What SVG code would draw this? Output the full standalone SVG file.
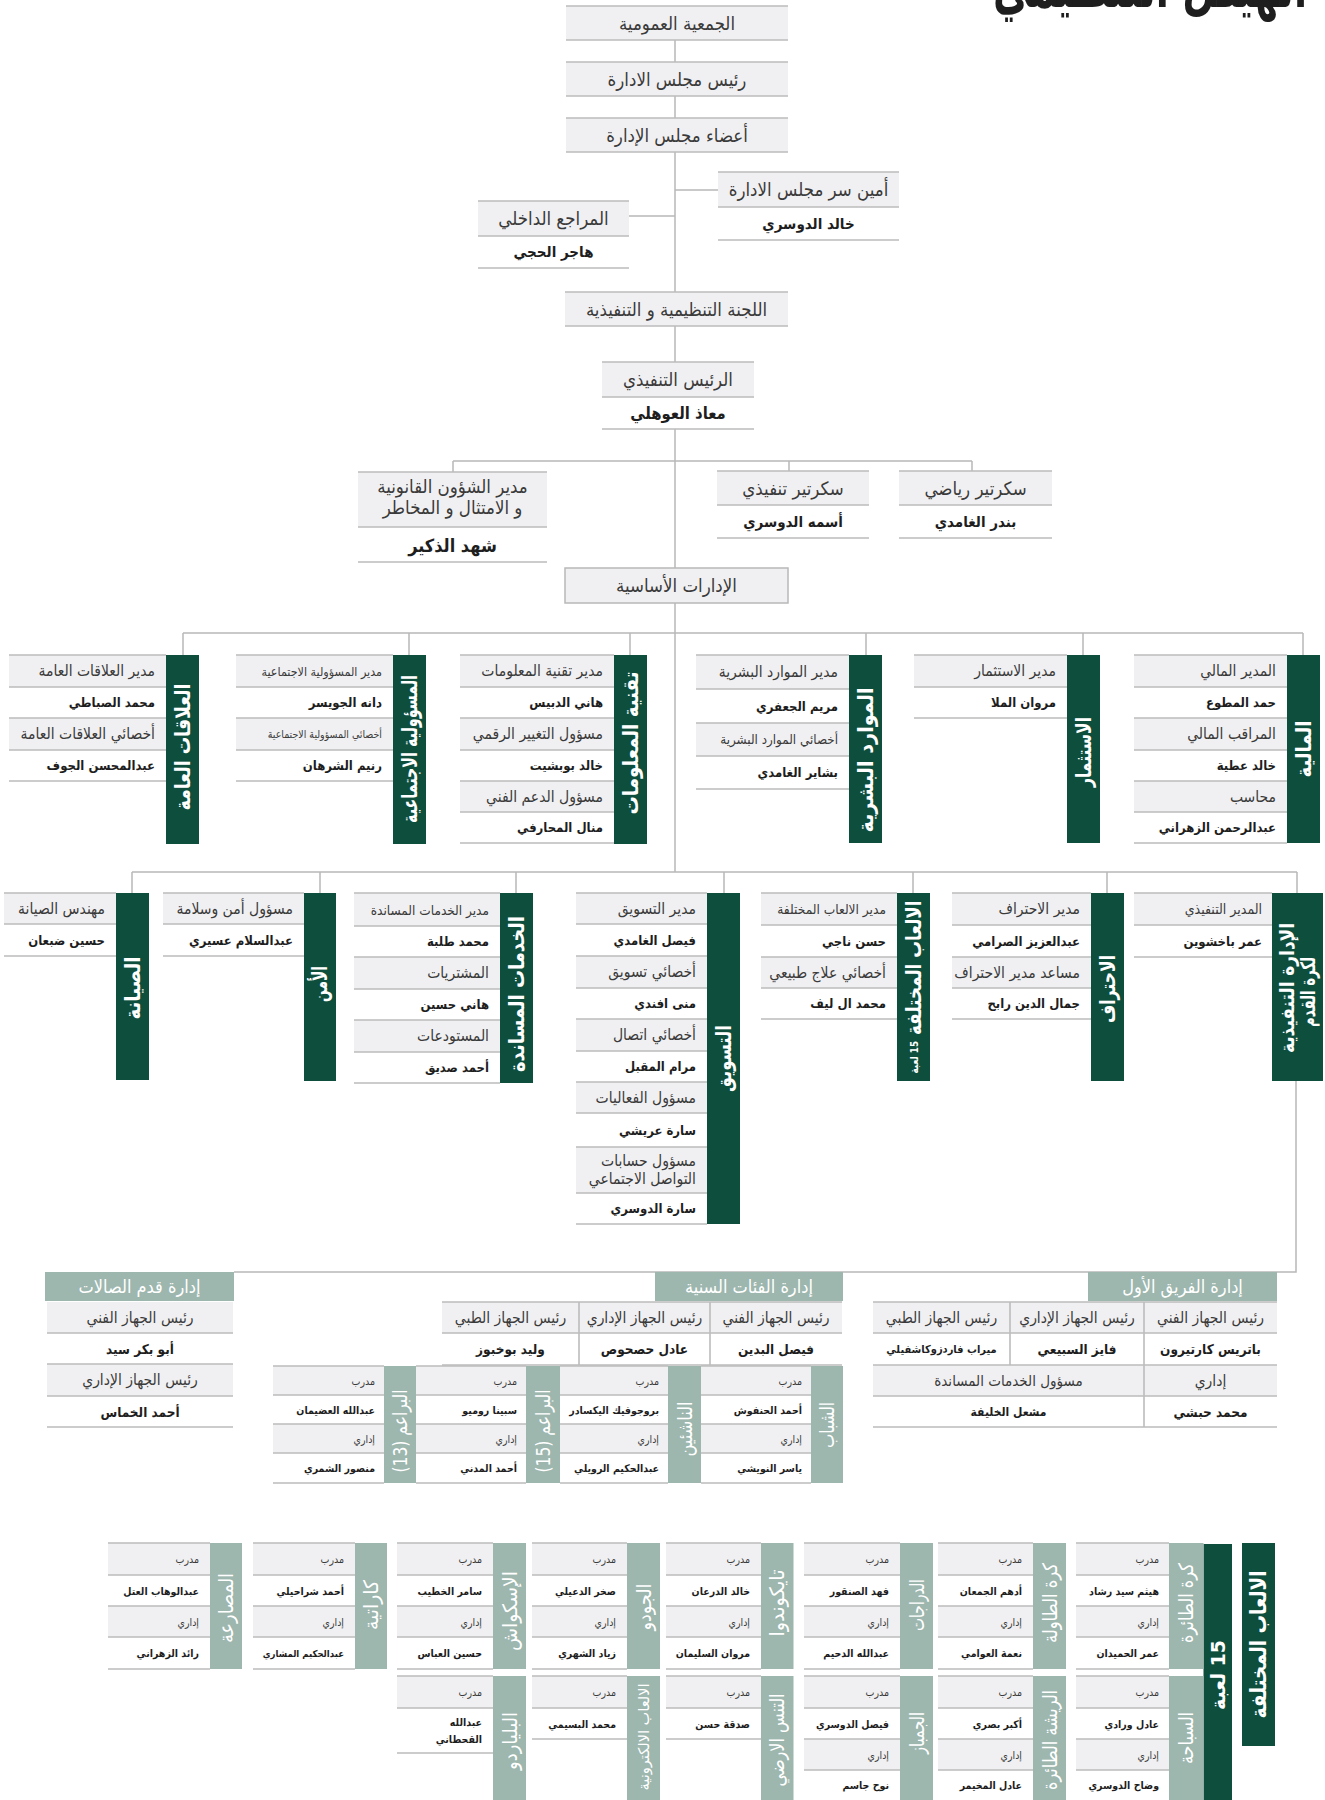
<svg xmlns="http://www.w3.org/2000/svg" width="1325" height="1800" viewBox="0 0 1325 1800">
<style>
text{font-family:"DejaVu Sans Condensed","DejaVu Sans",sans-serif;direction:rtl;dominant-baseline:central}
.c{stroke:#b8b8b8;stroke-width:1.5;fill:none}
.ln{stroke:#bcbcbc;stroke-width:1.6;fill:none}
.g{fill:#f0f0f2}
.bar{fill:#0e4e3c}
.sg{fill:#9db6ae}
.t{font-size:15.5px;fill:#3a3a3a;text-anchor:start}
.n{font-size:13px;font-weight:bold;fill:#1e1e1e;text-anchor:start}
.ts{font-size:10.5px;fill:#3a3a3a;text-anchor:start}
.tc{font-size:18.5px;fill:#3a3a3a;text-anchor:middle}
.nc{font-size:15px;font-weight:bold;fill:#1e1e1e;text-anchor:middle}
.bt{font-size:21px;font-weight:bold;fill:#fff;text-anchor:middle}
.hd{font-size:18px;fill:#fff;text-anchor:middle}
.st{font-size:10.5px;fill:#3a3a3a;text-anchor:start}
.sn{font-size:10.5px;font-weight:bold;fill:#1e1e1e;text-anchor:start}
.sb{font-size:20px;fill:#fff;text-anchor:middle}
.cc{font-size:15.5px;fill:#3a3a3a;text-anchor:middle}
.cn{font-size:13.5px;font-weight:bold;fill:#1e1e1e;text-anchor:middle}
</style>
<rect width="1325" height="1800" fill="#fff"/>
<text x="1307" y="7" textLength="314" lengthAdjust="spacingAndGlyphs" style="font-size:62px;font-weight:bold;fill:#1e1e1e;text-anchor:start;dominant-baseline:alphabetic">الهيكل التنظيمي</text>

<g id="connectors">
<path class="c" d="M675 40V62M675 96V118M675 152V292M675 190H718M629 216H675M675 326V362M675 429V568M675 603V872"/>
<path class="c" d="M453 461H972M453 461V472M789 461V471M972 461V471"/>
<path class="c" d="M183 633H1303M183 633V655M409 633V655M630 633V655M866 633V655M1083 633V655M1303 633V655"/>
<path class="c" d="M132 872H1297M132 872V893M320 872V893M516 872V893M724 872V893M913 872V893M1107 872V893M1297 872V893"/>
<path class="c" d="M1296 1081V1272H234"/>
</g>

<g id="general-assembly"><rect class="g" x="566" y="6" width="222" height="34"/><path class="ln" d="M566 6H788M566 40H788"/><text class="tc" x="677" y="23">الجمعية العمومية</text></g>
<g id="board-chair"><rect class="g" x="566" y="62" width="222" height="34"/><path class="ln" d="M566 62H788M566 96H788"/><text class="tc" x="677" y="79">رئيس مجلس الادارة</text></g>
<g id="board-members"><rect class="g" x="566" y="118" width="222" height="34"/><path class="ln" d="M566 118H788M566 152H788"/><text class="tc" x="677" y="135">أعضاء مجلس الإدارة</text></g>
<g id="board-secretary"><rect class="g" x="718" y="172" width="181" height="35"/><path class="ln" d="M718 172H899M718 207H899M718 240H899"/><text class="tc" x="808.5" y="189.5">أمين سر مجلس الادارة</text><text class="nc" x="808.5" y="223.5">خالد الدوسري</text></g>
<g id="internal-auditor"><rect class="g" x="478" y="201" width="151" height="35"/><path class="ln" d="M478 201H629M478 236H629M478 268H629"/><text class="tc" x="553.5" y="218.5">المراجع الداخلي</text><text class="nc" x="553.5" y="252">هاجر الحجي</text></g>
<g id="exec-committee"><rect class="g" x="565" y="292" width="223" height="34"/><path class="ln" d="M565 292H788M565 326H788"/><text class="tc" x="676.5" y="309">اللجنة التنظيمية و التنفيذية</text></g>
<g id="ceo"><rect class="g" x="602" y="362" width="152" height="35"/><path class="ln" d="M602 362H754M602 397H754M602 429H754"/><text class="tc" x="678" y="379.5">الرئيس التنفيذي</text><text class="nc" x="678" y="413" style="font-size:16.5px">معاذ العوهلي</text></g>
<g id="legal"><rect class="g" x="358" y="472" width="189" height="55"/><path class="ln" d="M358 472H547M358 527H547M358 562H547"/><text class="tc" x="452.5" y="486">مدير الشؤون القانونية</text><text class="tc" x="452.5" y="507">و الامتثال و المخاطر</text><text class="nc" x="452.5" y="545" style="font-size:18px">شهد الذكير</text></g>
<g id="exec-secretary"><rect class="g" x="717" y="471" width="152" height="34"/><path class="ln" d="M717 471H869M717 505H869M717 538H869"/><text class="tc" x="793" y="488">سكرتير تنفيذي</text><text class="nc" x="793" y="521.5">أسمه الدوسري</text></g>
<g id="sports-secretary"><rect class="g" x="899" y="471" width="153" height="34"/><path class="ln" d="M899 471H1052M899 505H1052M899 538H1052"/><text class="tc" x="975.5" y="488">سكرتير رياضي</text><text class="nc" x="975.5" y="521.5">بندر الغامدي</text></g>
<g id="main-departments"><rect x="565" y="568" width="223" height="35" fill="#f0f0f2" stroke="#b8b8b8" stroke-width="1.5"/><text class="tc" x="676.5" y="585.5">الإدارات الأساسية</text></g>

<g id="dept-finance">
<rect class="g" x="1134" y="655" width="153" height="32"/><rect class="g" x="1134" y="718" width="153" height="32"/><rect class="g" x="1134" y="781" width="153" height="31"/>
<path class="ln" d="M1134 655H1287M1134 687H1287M1134 718H1287M1134 750H1287M1134 781H1287M1134 812H1287M1134 843H1287"/>
<rect class="bar" x="1287" y="655" width="33" height="188"/>
<text class="t" x="1276" y="671">المدير المالي</text><text class="n" x="1276" y="702.5">حمد المطوع</text><text class="t" x="1276" y="734">المراقب المالي</text><text class="n" x="1276" y="765.5">خالد عطية</text><text class="t" x="1276" y="796.5">محاسب</text><text class="n" x="1276" y="827.5">عبدالرحمن الزهراني</text>
<text class="bt" transform="translate(1303.5 749) rotate(-90)" textLength="57" lengthAdjust="spacingAndGlyphs">المالية</text>
</g>
<g id="dept-investment">
<rect class="g" x="914" y="655" width="153" height="32"/>
<path class="ln" d="M914 655H1067M914 687H1067M914 718H1067"/>
<rect class="bar" x="1067" y="655" width="33" height="188"/>
<text class="t" x="1056" y="671">مدير الاستثمار</text><text class="n" x="1056" y="702.5">مروان الملا</text>
<text class="bt" transform="translate(1083.5 752) rotate(-90)" textLength="70" lengthAdjust="spacingAndGlyphs">الاستثمار</text>
</g>
<g id="dept-hr">
<rect class="g" x="696" y="655" width="153" height="34"/><rect class="g" x="696" y="723" width="153" height="33"/>
<path class="ln" d="M696 655H849M696 689H849M696 723H849M696 756H849M696 789H849"/>
<rect class="bar" x="849" y="655" width="33" height="188"/>
<text class="t" x="838" y="672">مدير الموارد البشرية</text><text class="n" x="838" y="706">مريم الجعفري</text><text class="ts" x="838" y="739.5" style="font-size:13.3px">أخصائي الموارد البشرية</text><text class="n" x="838" y="772.5">بشاير الغامدي</text>
<text class="bt" transform="translate(865.5 760) rotate(-90)" textLength="145" lengthAdjust="spacingAndGlyphs">الموارد البشرية</text>
</g>
<g id="dept-it">
<rect class="g" x="460" y="655" width="154" height="32"/><rect class="g" x="460" y="718" width="154" height="32"/><rect class="g" x="460" y="781" width="154" height="31"/>
<path class="ln" d="M460 655H614M460 687H614M460 718H614M460 750H614M460 781H614M460 812H614M460 843H614"/>
<rect class="bar" x="614" y="655" width="33" height="189"/>
<text class="t" x="603" y="671">مدير تقنية المعلومات</text><text class="n" x="603" y="702.5">هاني الدبيس</text><text class="t" x="603" y="734">مسؤول التغيير الرقمي</text><text class="n" x="603" y="765.5">خالد بوبشيت</text><text class="t" x="603" y="796.5">مسؤول الدعم الفني</text><text class="n" x="603" y="827.5">منال المحارفي</text>
<text class="bt" transform="translate(630.5 743) rotate(-90)" textLength="143" lengthAdjust="spacingAndGlyphs">تقنية المعلومات</text>
</g>
<g id="dept-csr">
<rect class="g" x="236" y="655" width="157" height="32"/><rect class="g" x="236" y="718" width="157" height="32"/>
<path class="ln" d="M236 655H393M236 687H393M236 718H393M236 750H393M236 781H393"/>
<rect class="bar" x="393" y="655" width="33" height="189"/>
<text class="ts" x="382" y="671" style="font-size:12.4px">مدير المسؤولية الاجتماعية</text><text class="n" x="382" y="702.5">دانه الجويسر</text><text class="ts" x="382" y="734">أخصائي المسؤولية الاجتماعية</text><text class="n" x="382" y="765.5">رنيم الشرهان</text>
<text class="bt" transform="translate(409.5 749) rotate(-90)" textLength="148" lengthAdjust="spacingAndGlyphs">المسؤولية الاجتماعية</text>
</g>
<g id="dept-pr">
<rect class="g" x="9" y="655" width="157" height="32"/><rect class="g" x="9" y="718" width="157" height="32"/>
<path class="ln" d="M9 655H166M9 687H166M9 718H166M9 750H166M9 781H166"/>
<rect class="bar" x="166" y="655" width="33" height="189"/>
<text class="t" x="155" y="671">مدير العلاقات العامة</text><text class="n" x="155" y="702.5">محمد الصباطي</text><text class="t" x="155" y="734">أخصائي العلاقات العامة</text><text class="n" x="155" y="765.5">عبدالمحسن الجوف</text>
<text class="bt" transform="translate(182.5 747) rotate(-90)" textLength="127" lengthAdjust="spacingAndGlyphs">العلاقات العامة</text>
</g>

<g id="dept-football-exec">
<rect class="g" x="1134" y="893" width="138" height="32"/>
<path class="ln" d="M1134 893H1272M1134 925H1272M1134 957H1272"/>
<rect class="bar" x="1272" y="893" width="51" height="188"/>
<text class="ts" x="1262" y="909" style="font-size:14px">المدير التنفيذي</text><text class="n" x="1262" y="941">عمر باخشوين</text>
<text class="bt" transform="translate(1287 988) rotate(-90)" style="font-size:20px" textLength="130" lengthAdjust="spacingAndGlyphs">الإدارة التنفيذية</text>
<text class="bt" transform="translate(1308 992) rotate(-90)" style="font-size:20px" textLength="70" lengthAdjust="spacingAndGlyphs">لكرة القدم</text>
</g>
<g id="dept-professional">
<rect class="g" x="952" y="893" width="139" height="32"/><rect class="g" x="952" y="957" width="139" height="31"/>
<path class="ln" d="M952 893H1091M952 925H1091M952 957H1091M952 988H1091M952 1019H1091"/>
<rect class="bar" x="1091" y="893" width="33" height="188"/>
<text class="t" x="1080" y="909">مدير الاحتراف</text><text class="n" x="1080" y="941">عبدالعزيز الصرامي</text><text class="t" x="1080" y="972.5">مساعد مدير الاحتراف</text><text class="n" x="1080" y="1003.5">جمال الدين رابح</text>
<text class="bt" transform="translate(1107.5 989) rotate(-90)" textLength="68" lengthAdjust="spacingAndGlyphs">الاحتراف</text>
</g>
<g id="dept-various-games">
<rect class="g" x="761" y="893" width="136" height="32"/><rect class="g" x="761" y="957" width="136" height="31"/>
<path class="ln" d="M761 893H897M761 925H897M761 957H897M761 988H897M761 1019H897"/>
<rect class="bar" x="897" y="893" width="33" height="188"/>
<text class="ts" x="886" y="909" style="font-size:13.6px">مدير الالعاب المختلفة</text><text class="n" x="886" y="941">حسن ناجي</text><text class="t" x="886" y="972.5">أخصائي علاج طبيعي</text><text class="n" x="886" y="1003.5">محمد ال ليف</text>
<text class="bt" transform="translate(913.5 987) rotate(-90)" textLength="173" lengthAdjust="spacingAndGlyphs">الالعاب المختلفة <tspan style="font-size:11px">15 لعبة</tspan></text>
</g>
<g id="dept-marketing">
<rect class="g" x="576" y="893" width="131" height="31"/><rect class="g" x="576" y="956" width="131" height="32"/><rect class="g" x="576" y="1019" width="131" height="32"/><rect class="g" x="576" y="1082" width="131" height="31"/><rect class="g" x="576" y="1147" width="131" height="46"/>
<path class="ln" d="M576 893H707M576 924H707M576 956H707M576 988H707M576 1019H707M576 1051H707M576 1082H707M576 1113H707M576 1147H707M576 1193H707M576 1224H707"/>
<rect class="bar" x="707" y="893" width="33" height="331"/>
<text class="t" x="696" y="908.5">مدير التسويق</text><text class="n" x="696" y="940">فيصل الغامدي</text><text class="t" x="696" y="972">أخصائي تسويق</text><text class="n" x="696" y="1003.5">منى افندي</text><text class="t" x="696" y="1035">أخصائي اتصال</text><text class="n" x="696" y="1066.5">مرام المقبل</text><text class="t" x="696" y="1097.5">مسؤول الفعاليات</text><text class="n" x="696" y="1130">سارة عريشي</text><text class="t" x="696" y="1161">مسؤول حسابات</text><text class="t" x="696" y="1179">التواصل الاجتماعي</text><text class="n" x="696" y="1208.5">سارة الدوسري</text>
<text class="bt" transform="translate(723.5 1058.5) rotate(-90)" textLength="67" lengthAdjust="spacingAndGlyphs">التسويق</text>
</g>
<g id="dept-support">
<rect class="g" x="354" y="893" width="146" height="33"/><rect class="g" x="354" y="957" width="146" height="32"/><rect class="g" x="354" y="1020" width="146" height="32"/>
<path class="ln" d="M354 893H500M354 926H500M354 957H500M354 989H500M354 1020H500M354 1052H500M354 1083H500"/>
<rect class="bar" x="500" y="893" width="33" height="190"/>
<text class="ts" x="489" y="909.5" style="font-size:13.5px">مدير الخدمات المساندة</text><text class="n" x="489" y="941.5">محمد طلبة</text><text class="t" x="489" y="973">المشتريات</text><text class="n" x="489" y="1004.5">هاني حسين</text><text class="t" x="489" y="1036">المستودعات</text><text class="n" x="489" y="1067.5">أحمد صديق</text>
<text class="bt" transform="translate(516.5 994) rotate(-90)" textLength="156" lengthAdjust="spacingAndGlyphs">الخدمات المساندة</text>
</g>
<g id="dept-security">
<rect class="g" x="163" y="893" width="141" height="31"/>
<path class="ln" d="M163 893H304M163 924H304M163 956H304"/>
<rect class="bar" x="304" y="893" width="32" height="188"/>
<text class="t" x="293" y="908.5">مسؤول أمن وسلامة</text><text class="n" x="293" y="940">عبدالسلام عسيري</text>
<text class="bt" transform="translate(320 984) rotate(-90)" textLength="36" lengthAdjust="spacingAndGlyphs">الأمن</text>
</g>
<g id="dept-maintenance">
<rect class="g" x="4" y="893" width="112" height="31"/>
<path class="ln" d="M4 893H116M4 924H116M4 956H116"/>
<rect class="bar" x="116" y="893" width="33" height="187"/>
<text class="t" x="105" y="908.5">مهندس الصيانة</text><text class="n" x="105" y="940">حسين ضبعان</text>
<text class="bt" transform="translate(132.5 988) rotate(-90)" textLength="63" lengthAdjust="spacingAndGlyphs">الصيانة</text>
</g>

<g id="futsal">
<rect class="sg" x="45" y="1272" width="189" height="29"/>
<text class="hd" x="139.5" y="1286.5">إدارة قدم الصالات</text>
<rect class="g" x="47" y="1302" width="186" height="31"/><rect class="g" x="47" y="1364" width="186" height="32"/>
<path class="ln" d="M47 1333H233M47 1364H233M47 1396H233M47 1427H233"/>
<text class="cc" x="140" y="1317.5">رئيس الجهاز الفني</text><text class="cn" x="140" y="1348.5">أبو بكر سيد</text><text class="cc" x="140" y="1380">رئيس الجهاز الإداري</text><text class="cn" x="140" y="1411.5">أحمد الخماس</text>
</g>

<g id="youth">
<rect class="sg" x="655" y="1272" width="188" height="29"/>
<text class="hd" x="749" y="1286.5">إدارة الفئات السنية</text>
<rect class="g" x="442" y="1302" width="400" height="31"/>
<path class="ln" d="M442 1302H842M442 1333H842M442 1365H842M579 1302V1365M710 1302V1365"/>
<text class="cc" x="776" y="1317.5">رئيس الجهاز الفني</text><text class="cc" x="644.5" y="1317.5">رئيس الجهاز الإداري</text><text class="cc" x="510.5" y="1317.5">رئيس الجهاز الطبي</text>
<text class="cn" x="776" y="1349">فيصل البدين</text><text class="cn" x="644.5" y="1349">عادل حصحوص</text><text class="cn" x="510.5" y="1349">وليد بوخبوز</text>
</g>
<g id="youth-u13">
<rect class="g" x="273" y="1366" width="111" height="29"/><rect class="g" x="273" y="1424" width="111" height="29"/>
<path class="ln" d="M273 1366H384M273 1395H384M273 1424H384M273 1453H384M273 1483H384"/>
<rect class="sg" x="384" y="1366" width="32" height="117"/>
<text class="st" x="375" y="1380.5">مدرب</text><text class="sn" x="375" y="1409.5">عبدالله العضيمان</text><text class="st" x="375" y="1438.5">إداري</text><text class="sn" x="375" y="1468">منصور الشمري</text>
<text class="sb" transform="translate(400 1431) rotate(-90)" textLength="83" lengthAdjust="spacingAndGlyphs">البراعم (13)</text>
</g>
<g id="youth-u15">
<rect class="g" x="416" y="1366" width="110" height="29"/><rect class="g" x="416" y="1424" width="110" height="29"/>
<path class="ln" d="M416 1366H526M416 1395H526M416 1424H526M416 1453H526M416 1483H526"/>
<rect class="sg" x="526" y="1366" width="34" height="117"/>
<text class="st" x="517" y="1380.5">مدرب</text><text class="sn" x="517" y="1409.5">سبينا روميو</text><text class="st" x="517" y="1438.5">إداري</text><text class="sn" x="517" y="1468">أحمد المدني</text>
<text class="sb" transform="translate(543 1431) rotate(-90)" textLength="83" lengthAdjust="spacingAndGlyphs">البراعم (15)</text>
</g>
<g id="youth-juniors">
<rect class="g" x="560" y="1366" width="108" height="29"/><rect class="g" x="560" y="1424" width="108" height="29"/>
<path class="ln" d="M560 1366H668M560 1395H668M560 1424H668M560 1453H668M560 1483H668"/>
<rect class="sg" x="668" y="1366" width="33" height="117"/>
<text class="st" x="659" y="1380.5">مدرب</text><text class="sn" x="659" y="1409.5">بروجوفيك اليكسادر</text><text class="st" x="659" y="1438.5">إداري</text><text class="sn" x="659" y="1468">عبدالحكيم الرويلي</text>
<text class="sb" transform="translate(684.5 1429) rotate(-90)" textLength="55" lengthAdjust="spacingAndGlyphs">الناشئين</text>
</g>
<g id="youth-youth">
<rect class="g" x="701" y="1366" width="110" height="29"/><rect class="g" x="701" y="1424" width="110" height="29"/>
<path class="ln" d="M701 1366H811M701 1395H811M701 1424H811M701 1453H811M701 1483H811"/>
<rect class="sg" x="811" y="1366" width="32" height="117"/>
<text class="st" x="802" y="1380.5">مدرب</text><text class="sn" x="802" y="1409.5">أحمد الحنفوش</text><text class="st" x="802" y="1438.5">إداري</text><text class="sn" x="802" y="1468">ياسر النويشي</text>
<text class="sb" transform="translate(827 1425) rotate(-90)" textLength="46" lengthAdjust="spacingAndGlyphs">الشباب</text>
</g>

<g id="first-team">
<rect class="sg" x="1088" y="1272" width="189" height="29"/>
<text class="hd" x="1182.5" y="1286.5">إدارة الفريق الأول</text>
<rect class="g" x="873" y="1302" width="404" height="31"/><rect class="g" x="873" y="1365" width="404" height="31"/>
<path class="ln" d="M873 1302H1277M873 1333H1277M873 1365H1277M873 1396H1277M873 1427H1277M1010 1302V1365M1144 1302V1427"/>
<text class="cc" x="1210.5" y="1317.5">رئيس الجهاز الفني</text><text class="cc" x="1077" y="1317.5">رئيس الجهاز الإداري</text><text class="cc" x="941.5" y="1317.5">رئيس الجهاز الطبي</text>
<text class="cn" x="1210.5" y="1349">باتريس كارتيرون</text><text class="cn" x="1077" y="1349">فايز السبيعي</text><text class="cn" x="941.5" y="1349" style="font-size:11px">ميراب فاردزوكاشفيلي</text>
<text class="cc" x="1210.5" y="1380.5">إداري</text><text class="cc" x="1008.5" y="1380.5" style="font-size:15px">مسؤول الخدمات المساندة</text>
<text class="cn" x="1210.5" y="1411.5">محمد حبشي</text><text class="cn" x="1008.5" y="1411.5" style="font-size:12px">مشعل الخليفة</text>
</g>

<g id="games-title">
<rect class="bar" x="1242" y="1543" width="33" height="203"/>
<text class="bt" transform="translate(1258.5 1644.5) rotate(-90)" style="font-size:22px" textLength="148" lengthAdjust="spacingAndGlyphs">الالعاب المختلفة</text>
<rect class="bar" x="1203.5" y="1544" width="28.5" height="256"/>
<text class="bt" transform="translate(1218 1675) rotate(-90)" style="font-size:20px" textLength="70" lengthAdjust="spacingAndGlyphs">15 لعبة</text>
</g>

<g id="sport-volleyball">
<rect class="g" x="1076" y="1543" width="93" height="32"/><rect class="g" x="1076" y="1606" width="93" height="31"/>
<path class="ln" d="M1076 1543H1169M1076 1575H1169M1076 1606H1169M1076 1637H1169M1076 1669H1169"/>
<rect class="sg" x="1169" y="1543" width="34.5" height="126"/>
<text class="st" x="1159" y="1559">مدرب</text><text class="sn" x="1159" y="1590.5">هيثم سيد رشاد</text><text class="st" x="1159" y="1621.5">إداري</text><text class="sn" x="1159" y="1653">عمر الحميدان</text>
<text class="sb" transform="translate(1186 1603) rotate(-90)" textLength="80" lengthAdjust="spacingAndGlyphs">كرة الطائرة</text>
</g>
<g id="sport-swimming">
<rect class="g" x="1076" y="1676" width="93" height="32"/><rect class="g" x="1076" y="1739" width="93" height="31"/>
<path class="ln" d="M1076 1676H1169M1076 1708H1169M1076 1739H1169M1076 1770H1169"/>
<rect class="sg" x="1169" y="1676" width="34.5" height="124"/>
<text class="st" x="1159" y="1692">مدرب</text><text class="sn" x="1159" y="1723.5">عادل ورادي</text><text class="st" x="1159" y="1754.5">إداري</text><text class="sn" x="1159" y="1785">وضاح الدوسري</text>
<text class="sb" transform="translate(1186 1738) rotate(-90)" textLength="52" lengthAdjust="spacingAndGlyphs">السباحة</text>
</g>
<g id="sport-tabletennis">
<rect class="g" x="938" y="1543" width="95" height="32"/><rect class="g" x="938" y="1606" width="95" height="31"/>
<path class="ln" d="M938 1543H1033M938 1575H1033M938 1606H1033M938 1637H1033M938 1669H1033"/>
<rect class="sg" x="1033" y="1543" width="33" height="126"/>
<text class="st" x="1022" y="1559">مدرب</text><text class="sn" x="1022" y="1590.5">أدهم الجمعان</text><text class="st" x="1022" y="1621.5">إداري</text><text class="sn" x="1022" y="1653">نعمة العوامي</text>
<text class="sb" transform="translate(1049.5 1603) rotate(-90)" textLength="80" lengthAdjust="spacingAndGlyphs">كرة الطاولة</text>
</g>
<g id="sport-badminton">
<rect class="g" x="938" y="1676" width="95" height="32"/><rect class="g" x="938" y="1739" width="95" height="31"/>
<path class="ln" d="M938 1676H1033M938 1708H1033M938 1739H1033M938 1770H1033"/>
<rect class="sg" x="1033" y="1676" width="33" height="124"/>
<text class="st" x="1022" y="1692">مدرب</text><text class="sn" x="1022" y="1723.5">أكبر بصري</text><text class="st" x="1022" y="1754.5">إداري</text><text class="sn" x="1022" y="1785">عادل المخيمر</text>
<text class="sb" transform="translate(1049.5 1740) rotate(-90)" textLength="100" lengthAdjust="spacingAndGlyphs">الريشة الطائرة</text>
</g>
<g id="sport-cycling">
<rect class="g" x="804" y="1543" width="96" height="32"/><rect class="g" x="804" y="1606" width="96" height="31"/>
<path class="ln" d="M804 1543H900M804 1575H900M804 1606H900M804 1637H900M804 1669H900"/>
<rect class="sg" x="900" y="1543" width="33" height="126"/>
<text class="st" x="889" y="1559">مدرب</text><text class="sn" x="889" y="1590.5">فهد الصنقور</text><text class="st" x="889" y="1621.5">إداري</text><text class="sn" x="889" y="1653">عبدالله الدحيم</text>
<text class="sb" transform="translate(916.5 1605) rotate(-90)" textLength="52" lengthAdjust="spacingAndGlyphs">الدراجات</text>
</g>
<g id="sport-gymnastics">
<rect class="g" x="804" y="1676" width="96" height="32"/><rect class="g" x="804" y="1739" width="96" height="31"/>
<path class="ln" d="M804 1676H900M804 1708H900M804 1739H900M804 1770H900"/>
<rect class="sg" x="900" y="1676" width="33" height="124"/>
<text class="st" x="889" y="1692">مدرب</text><text class="sn" x="889" y="1723.5">فيصل الدوسري</text><text class="st" x="889" y="1754.5">إداري</text><text class="sn" x="889" y="1785">نوح جاسم</text>
<text class="sb" transform="translate(916.5 1733) rotate(-90)" textLength="42" lengthAdjust="spacingAndGlyphs">الجمباز</text>
</g>
<g id="sport-taekwondo">
<rect class="g" x="666" y="1543" width="95" height="32"/><rect class="g" x="666" y="1606" width="95" height="31"/>
<path class="ln" d="M666 1543H761M666 1575H761M666 1606H761M666 1637H761M666 1669H761"/>
<rect class="sg" x="761" y="1543" width="32.5" height="126"/>
<text class="st" x="750" y="1559">مدرب</text><text class="sn" x="750" y="1590.5">خالد الدرعان</text><text class="st" x="750" y="1621.5">إداري</text><text class="sn" x="750" y="1653">مروان السليمان</text>
<text class="sb" transform="translate(777 1603) rotate(-90)" textLength="67" lengthAdjust="spacingAndGlyphs">تايكوندوا</text>
</g>
<g id="sport-tennis">
<rect class="g" x="666" y="1676" width="95" height="32"/>
<path class="ln" d="M666 1676H761M666 1708H761M666 1739H761"/>
<rect class="sg" x="761" y="1676" width="32.5" height="124"/>
<text class="st" x="750" y="1692">مدرب</text><text class="sn" x="750" y="1723.5">صدقة حسن</text>
<text class="sb" transform="translate(777 1740) rotate(-90)" textLength="93" lengthAdjust="spacingAndGlyphs">التنس الارضي</text>
</g>
<g id="sport-judo">
<rect class="g" x="532" y="1543" width="95" height="32"/><rect class="g" x="532" y="1606" width="95" height="31"/>
<path class="ln" d="M532 1543H627M532 1575H627M532 1606H627M532 1637H627M532 1669H627"/>
<rect class="sg" x="627" y="1543" width="33" height="126"/>
<text class="st" x="616" y="1559">مدرب</text><text class="sn" x="616" y="1590.5">صخر الدعيلي</text><text class="st" x="616" y="1621.5">إداري</text><text class="sn" x="616" y="1653">زياد الشهري</text>
<text class="sb" transform="translate(643.5 1607) rotate(-90)" textLength="47" lengthAdjust="spacingAndGlyphs">الجودو</text>
</g>
<g id="sport-esports">
<rect class="g" x="532" y="1676" width="95" height="32"/>
<path class="ln" d="M532 1676H627M532 1708H627M532 1739H627"/>
<rect class="sg" x="627" y="1676" width="33" height="124"/>
<text class="st" x="616" y="1692">مدرب</text><text class="sn" x="616" y="1723.5">محمد البسيمي</text>
<text class="sb" transform="translate(643.5 1737) rotate(-90)" style="font-size:15px" textLength="107" lengthAdjust="spacingAndGlyphs">الالعاب الالكترونية</text>
</g>
<g id="sport-squash">
<rect class="g" x="397" y="1543" width="96" height="32"/><rect class="g" x="397" y="1606" width="96" height="31"/>
<path class="ln" d="M397 1543H493M397 1575H493M397 1606H493M397 1637H493M397 1669H493"/>
<rect class="sg" x="493" y="1543" width="33" height="126"/>
<text class="st" x="482" y="1559">مدرب</text><text class="sn" x="482" y="1590.5">سامر الخطيب</text><text class="st" x="482" y="1621.5">إداري</text><text class="sn" x="482" y="1653">حسين العباس</text>
<text class="sb" transform="translate(509.5 1611) rotate(-90)" textLength="80" lengthAdjust="spacingAndGlyphs">الإسكواش</text>
</g>
<g id="sport-billiards">
<rect class="g" x="397" y="1676" width="96" height="32"/>
<path class="ln" d="M397 1676H493M397 1708H493M397 1753H493"/>
<rect class="sg" x="493" y="1676" width="33" height="124"/>
<text class="st" x="482" y="1692">مدرب</text><text class="sn" x="482" y="1722">عبدالله</text><text class="sn" x="482" y="1739">القحطاني</text>
<text class="sb" transform="translate(509.5 1741) rotate(-90)" textLength="58" lengthAdjust="spacingAndGlyphs">البلياردو</text>
</g>
<g id="sport-karate">
<rect class="g" x="253" y="1543" width="102" height="32"/><rect class="g" x="253" y="1606" width="102" height="31"/>
<path class="ln" d="M253 1543H355M253 1575H355M253 1606H355M253 1637H355M253 1669H355"/>
<rect class="sg" x="355" y="1543" width="32" height="126"/>
<text class="st" x="344" y="1559">مدرب</text><text class="sn" x="344" y="1590.5">أحمد شراحيلي</text><text class="st" x="344" y="1621.5">إداري</text><text class="sn" x="344" y="1653" style="font-size:9.5px">عبدالحكيم المشاري</text>
<text class="sb" transform="translate(371 1605) rotate(-90)" textLength="50" lengthAdjust="spacingAndGlyphs">كاراتية</text>
</g>
<g id="sport-wrestling">
<rect class="g" x="108" y="1543" width="102" height="32"/><rect class="g" x="108" y="1606" width="102" height="31"/>
<path class="ln" d="M108 1543H210M108 1575H210M108 1606H210M108 1637H210M108 1669H210"/>
<rect class="sg" x="210" y="1543" width="32" height="126"/>
<text class="st" x="199" y="1559">مدرب</text><text class="sn" x="199" y="1590.5">عبدالوهاب العتل</text><text class="st" x="199" y="1621.5">إداري</text><text class="sn" x="199" y="1653">رائد الزهراني</text>
<text class="sb" transform="translate(226 1608) rotate(-90)" textLength="70" lengthAdjust="spacingAndGlyphs">المصارعة</text>
</g>
</svg>
